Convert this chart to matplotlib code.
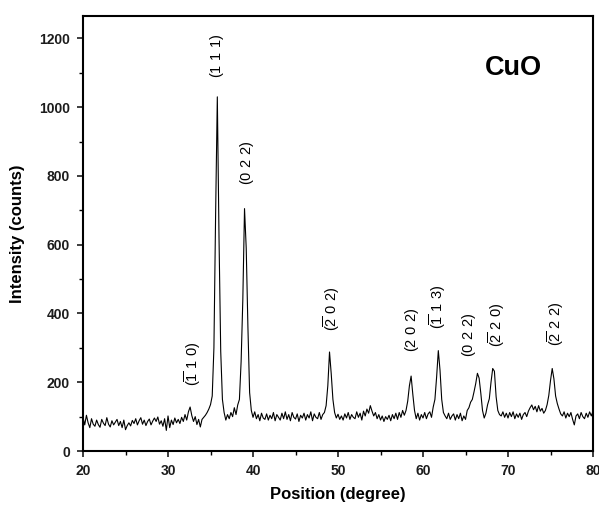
import numpy as np
import matplotlib
matplotlib.use("Agg")
import matplotlib.pyplot as plt
from matplotlib.ticker import MultipleLocator

plt.rcParams["font.family"] = "Liberation Sans"
plt.rcParams["mathtext.fontset"] = "custom"
plt.rcParams["mathtext.rm"] = "Liberation Sans"

# scan: 20-80 deg, 0.2 deg step
START, STOP, STEP = 20.0, 80.0, 0.2

counts = [
    98, 76, 104, 82, 68, 94, 78, 72, 90, 77,          # 20
    69, 92, 81, 74, 97, 78, 70, 88, 76, 84,           # 22
    92, 74, 86, 68, 90, 62, 74, 82, 73, 89,           # 24
    80, 94, 76, 88, 97, 78, 90, 74, 86, 93,           # 26
    76, 87, 96, 86, 99, 78, 88, 72, 94, 60,           # 28
    102, 68, 90, 77, 96, 82, 92, 80, 98, 86,          # 30
    106, 90, 114, 128, 103, 86, 100, 77, 92, 70,      # 32
    92, 98, 104, 112, 122, 135, 160, 300, 690, 1030,  # 34
    620, 290, 150, 112, 90, 106, 94, 112, 100, 126,   # 36
    106, 134, 150, 260, 440, 705, 590, 360, 170, 118, # 38
    98, 114, 94, 106, 88, 110, 96, 92, 108, 90,       # 40
    104, 94, 112, 88, 106, 98, 90, 110, 94, 114,      # 42
    92, 106, 88, 112, 98, 93, 108, 86, 104, 96,       # 44
    110, 90, 106, 96, 114, 88, 108, 98, 94, 112,      # 46
    92, 106, 112, 132, 190, 288, 225, 150, 112, 96,   # 48
    107, 92, 102, 90, 108, 96, 112, 92, 106, 98,      # 50
    94, 114, 98, 110, 90, 116, 102, 122, 110, 132,    # 52
    116, 102, 112, 94, 106, 90, 102, 86, 100, 92,     # 54
    104, 88, 106, 94, 110, 92, 112, 98, 118, 104,     # 56
    118, 145, 190, 218, 165, 118, 94, 110, 90, 106,   # 58
    96, 112, 94, 108, 114, 98, 128, 150, 215, 292,    # 60
    235, 150, 112, 102, 94, 110, 92, 102, 108, 90,    # 62
    106, 94, 110, 88, 102, 92, 118, 126, 142, 150,    # 64
    172, 196, 226, 212, 168, 118, 96, 110, 135, 152,  # 66
    200, 240, 232, 158, 118, 106, 102, 114, 98, 110,  # 68
    96, 112, 100, 114, 94, 108, 98, 110, 92, 106,     # 70
    112, 100, 116, 126, 134, 120, 130, 114, 132, 116, # 72
    124, 110, 118, 135, 162, 205, 240, 210, 160, 138, # 74
    122, 108, 102, 114, 96, 110, 100, 112, 92, 76,    # 76
    102, 108, 94, 112, 100, 94, 110, 98, 114, 102,    # 78
    116,                                              # 80
]

two_theta = START + STEP * np.arange(len(counts))

# reflection labels: text, 2theta, label bottom (counts)
peak_labels = [r"$\mathrm{(\overline{1}\ 1\ 0)}$", r"$\mathrm{(1\ 1\ 1)}$", r"$\mathrm{(0\ 2\ 2)}$",
               r"$\mathrm{(\overline{2}\ 0\ 2)}$", r"$\mathrm{(2\ 0\ 2)}$", r"$\mathrm{(\overline{1}\ 1\ 3)}$",
               r"$\mathrm{(0\ 2\ 2)}$", r"$\mathrm{(\overline{2}\ 2\ 0)}$", r"$\mathrm{(\overline{2}\ 2\ 2)}$"]
label_x = [32.95, 35.75, 39.25, 49.3, 58.7, 61.7, 65.45, 68.65, 75.65]
label_y = [190, 1084, 773, 349, 289, 355, 274, 303, 306]

fig = plt.figure(figsize=(5.99, 5.09), dpi=100)
ax = fig.add_axes([0.1386, 0.1139, 0.8514, 0.8546])

ax.plot(two_theta, counts, color="black", linewidth=0.8)

for txt, x, y in zip(peak_labels, label_x, label_y):
    ax.text(x, y, txt, rotation=90, ha="center", va="bottom", fontsize=10.5, color="black")

ax.text(70.6, 1113, "CuO", fontsize=19.5, fontweight="bold", ha="center", va="center")

ax.set_xlim(20, 80)
ax.set_ylim(0, 1265)
ax.xaxis.set_major_locator(MultipleLocator(10))
ax.xaxis.set_minor_locator(MultipleLocator(5))
ax.yaxis.set_major_locator(MultipleLocator(200))
ax.yaxis.set_minor_locator(MultipleLocator(100))
ax.tick_params(which="major", direction="out", length=4.5, width=1.2, pad=5,
               labelsize=10, colors="#1c1c1c")
ax.tick_params(which="minor", direction="out", length=3, width=1.0)
ax.tick_params(top=False, right=False, which="both")
for lab in ax.get_xticklabels() + ax.get_yticklabels():
    lab.set_fontweight("bold")
for sp in ax.spines.values():
    sp.set_linewidth(1.5)

ax.set_xlabel("Position (degree)", fontsize=12, fontweight="bold", labelpad=6)
ax.set_ylabel("Intensity (counts)", fontsize=12, fontweight="bold", labelpad=10)

fig.savefig("out.png", dpi=100)
